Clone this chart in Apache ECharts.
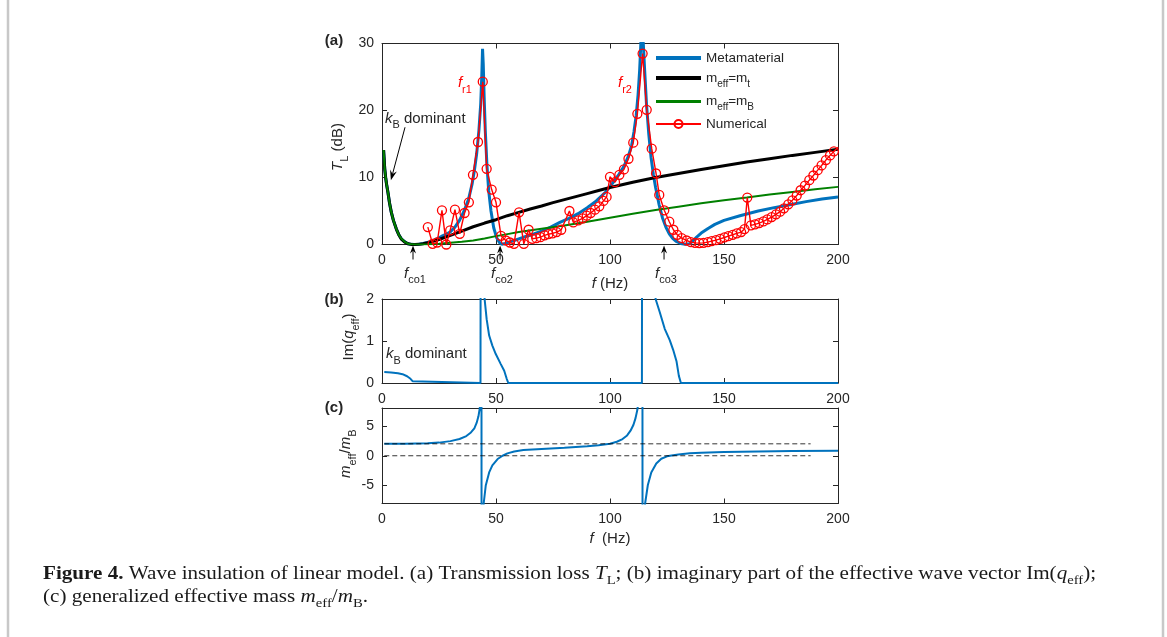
<!DOCTYPE html>
<html><head><meta charset="utf-8">
<script src="https://cdn.jsdelivr.net/npm/echarts@6/dist/echarts.min.js"></script>
<style>html,body{margin:0;padding:0;background:#fff;overflow:hidden}#c{width:1167px;height:637px}</style>
</head><body><div id="c"></div>
<script>
// ---------------- DATA ----------------
const xTicks = [0, 50, 100, 150, 200];
const yTicksA = [0, 10, 20, 30];
const yTicksB = [0, 1, 2];
const yTicksC = [-5, 0, 5];

// (a) Transmission loss T_L (dB)
const metaF = [0.7,1.2,1.6,2.0,2.6,3.3,4.1,5.0,6.3,7.3,8.5,10,11.4,13,14,16,18,20,22,24,26,28,30,32,34,36,38,39.5,40.5,41.5,42.5,43.3,43.8,44.1,44.4,44.8,45.3,46.0,46.8,47.8,49.0,50.3,51.5,52.5,54,56,58,60,63,66,70,74,78,82,86,90,94,98,101,104,106,108,109.5,110.5,111.5,112.3,113.0,113.6,114.0,114.6,115.2,116.0,117.0,118.0,119.0,120.0,121.5,123.0,124.5,126.0,127.5,129.0,131.0,133.0,135.0,136.5,138,140,143,146,150,157,165,172,180,186,193,200];
const metaTL = [14.1,11.3,10.0,9.0,7.8,6.2,4.8,3.6,2.3,1.5,0.85,0.4,0.12,0.02,0,0.05,0.15,0.3,0.55,0.85,1.2,1.5,1.9,2.6,3.6,5.0,6.8,9.0,11.0,13.5,17.0,21.0,25.5,29.2,27.0,22.0,17.0,12.0,8.0,5.0,2.5,1.0,0.3,0.05,0.15,0.4,0.6,0.85,1.2,1.5,2.0,2.6,3.3,3.9,4.6,5.5,6.5,7.8,9.1,10.5,11.6,13.1,14.8,16.8,19.3,22.3,26.0,30.5,32.0,30.0,26.0,21.0,16.5,13.0,10.5,8.5,6.0,4.0,2.6,1.6,0.9,0.45,0.15,0.03,0.1,0.6,1.1,1.7,2.4,3.0,3.6,4.3,5.0,5.5,6.0,6.4,6.8,7.1];

const mtF = [0.7,1.2,1.6,2.0,2.6,3.3,4.1,5.0,6.3,7.3,8.5,10,11.4,13,14.5,16,18,20,25,30,35,40,45,50,55,60,65,70,75,80,85,90,95,100,110,120,130,140,150,160,170,180,190,200];
const mtTL = [14.1,11.3,10.0,9.0,7.8,6.2,4.8,3.6,2.3,1.5,0.8,0.35,0.1,0.01,0,0.02,0.1,0.25,0.75,1.35,2.0,2.65,3.2,3.7,4.3,4.8,5.3,5.75,6.25,6.7,7.15,7.6,8.05,8.5,9.3,10.0,10.6,11.2,11.75,12.3,12.8,13.3,13.75,14.2];

const mbF = [0.7,1.2,1.6,2.0,2.6,3.3,4.1,5.0,6.3,7.3,8.5,10,11.4,13,14.5,16,20,25,30,35,40,45,50,55,60,70,80,90,100,110,120,130,140,150,160,170,180,190,200];
const mbTL = [14.1,11.3,10.0,9.0,7.8,6.2,4.8,3.6,2.3,1.5,0.85,0.4,0.12,0.02,0,0.01,0.05,0.12,0.25,0.4,0.6,0.9,1.25,1.55,1.85,2.35,2.85,3.4,4.0,4.6,5.15,5.65,6.15,6.6,7.0,7.45,7.85,8.25,8.6];

const numF = [20.1,22.2,24.2,26.3,28.2,29.9,32.0,34.1,36.2,38.1,39.9,42.1,44.2,45.9,48.1,50.0,52.2,54.3,56.1,57.9,60.1,62.2,64.3,65.9,67.7,69.5,71.3,73.0,74.8,76.6,78.6,82.2,83.9,86.1,88.0,89.8,91.5,93.4,95.3,97.1,98.5,100.0,102.2,104.1,106.1,108.1,110.2,112.0,114.3,116.1,118.3,120.2,121.6,123.8,126.0,127.8,129.5,131.4,133.6,135.5,137.3,139.2,141.0,142.9,144.6,146.5,148.3,150.2,151.9,153.8,155.6,157.5,159.0,160.2,161.8,163.6,165.4,167.3,169.0,170.9,172.8,174.6,176.3,178.2,180.0,181.9,183.6,185.5,187.4,189.2,191.1,192.8,194.7,196.5,198.2,200.1];
const numTL = [2.6,0.1,0.3,5.1,0.0,2.1,5.2,1.6,4.7,6.3,10.4,15.3,24.3,11.3,8.2,6.3,1.3,0.6,0.3,0.1,4.8,0.1,2.2,0.85,0.95,1.1,1.35,1.55,1.65,1.85,2.2,5.0,3.3,3.6,3.9,4.3,4.7,5.2,5.7,6.5,7.1,10.1,9.3,10.4,11.2,12.8,15.2,19.5,28.5,20.1,14.3,10.6,7.4,5.1,3.4,2.2,1.45,0.95,0.6,0.35,0.25,0.2,0.25,0.35,0.5,0.65,0.85,1.05,1.25,1.45,1.65,1.85,2.3,7.0,2.85,3.0,3.2,3.45,3.75,4.1,4.5,4.9,5.4,6.0,6.6,7.3,8.1,8.8,9.6,10.3,11.1,11.8,12.6,13.3,13.9,14.5];

// (b) Im(q_eff)
const imqF = [1,4,7,9,11,12.5,13.5,14,43.2,43.3,44.7,45.0,45.9,47.0,48.4,49.9,52.1,53.6,54.7,55.4,114.0,114.1,119.8,120.0,121.8,124.0,126.2,127.7,129.2,130.2,131.1,200];
const imqV = [0.26,0.25,0.23,0.21,0.16,0.1,0.04,0,0,6,6,2.0,1.52,1.13,0.89,0.69,0.45,0.29,0.1,0,0,6,6,2.0,1.69,1.29,1.02,0.79,0.51,0.17,0,0];

// (c) m_eff / m_B
const meffF = [1,10,20,25,30,34,37,39,40.5,41.5,42.3,42.9,43.3,43.6,43.7,44.2,44.6,45.5,47,48.4,50.7,52.9,55,58,62,70,80,90,95,100,103,105.5,107.5,109,110.3,111.2,112.0,112.8,114.2,114.3,115,115.4,116.6,118.1,120.3,122.5,125,127,130,135,140,150,165,180,200];
const meffV = [2.0,2.02,2.1,2.2,2.45,2.8,3.3,3.9,4.6,5.5,6.6,8.0,10,40,-40,-12,-8,-5,-2.8,-1.6,-0.55,0,0.4,0.7,0.95,1.15,1.35,1.6,1.75,2.0,2.35,2.8,3.4,4.2,5.2,6.3,7.7,10,40,-40,-12,-8,-4.9,-2.8,-1.3,-0.5,-0.1,0.05,0.2,0.4,0.5,0.62,0.72,0.8,0.85];
const dashF = [1, 188];
const dashLevels = [2, 0];

// ---------------- CHART ----------------
const SANS = 'Liberation Sans, Arial, Helvetica, sans-serif';
const SERIF = 'Liberation Serif, Times New Roman, serif';
const AX = '#262626';
const BLUE = '#0072BD', GREEN = '#008000', RED = '#FF0000';
const zip = (a, b) => a.map((v, i) => [v, b[i]]);

const chart = echarts.init(document.getElementById('c'), null, {renderer: 'canvas'});

const grids = [
  {left: 382, top: 43.5, width: 456, height: 201},
  {left: 382, top: 299, width: 456, height: 84},
  {left: 382, top: 408, width: 456, height: 95.5}
];
function xAx(g, pos, showLabel) {
  return {type: 'value', gridIndex: g, position: pos, min: 0, max: 200, interval: 50,
    axisLine: {show: true, onZero: false, lineStyle: {color: AX, width: 1}},
    axisTick: {show: true, inside: true, length: 5, customValues: xTicks, lineStyle: {color: AX}},
    axisLabel: {show: showLabel, customValues: xTicks, color: AX, fontSize: 14, fontFamily: SANS, margin: 9},
    splitLine: {show: false}};
}
function yAx(g, pos, min, max, ticks, showLabel) {
  return {type: 'value', gridIndex: g, position: pos, min: min, max: max,
    axisLine: {show: true, onZero: false, lineStyle: {color: AX, width: 1}},
    axisTick: {show: true, inside: true, length: 5, customValues: ticks, lineStyle: {color: AX}},
    axisLabel: {show: showLabel, customValues: ticks, color: AX, fontSize: 14, fontFamily: SANS, margin: 8},
    splitLine: {show: false}};
}
const xAxes = [xAx(0,'bottom',true), xAx(0,'top',false), xAx(1,'bottom',true), xAx(1,'top',false), xAx(2,'bottom',true), xAx(2,'top',false)];
const yAxes = [yAx(0,'left',0,30,yTicksA,true), yAx(0,'right',0,30,yTicksA,false),
               yAx(1,'left',0,2,yTicksB,true), yAx(1,'right',0,2,yTicksB,false),
               yAx(2,'left',-8,8,yTicksC,true), yAx(2,'right',-8,8,yTicksC,false)];

const legRich = {
  n: {fontSize: 13.5, fontFamily: SANS, color: AX, lineHeight: 22},
  s: {fontSize: 10, fontFamily: SANS, color: AX, lineHeight: 9, verticalAlign: 'bottom'}
};
const legLabels = {
  'Metamaterial': '{n|Metamaterial}',
  'meff=mt': '{n|m}{s|eff}{n|=m}{s|t}',
  'meff=mB': '{n|m}{s|eff}{n|=m}{s|B}',
  'Numerical': '{n|Numerical}'
};
function leg(name, top, icon, ih, left) {
  const L = {data: [name], orient: 'vertical', left: left || 656, top: top, padding: 0,
    itemWidth: 45, itemHeight: ih, itemGap: 0, formatter: n => legLabels[n], selectedMode: false,
    textStyle: {rich: legRich, fontSize: 13.5, fontFamily: SANS, color: AX}};
  if (icon) L.icon = icon;
  return L;
}

const series = [
  {name: 'Metamaterial', type: 'line', xAxisIndex: 0, yAxisIndex: 0, data: zip(metaF, metaTL), symbol: 'none', lineStyle: {color: BLUE, width: 3}, itemStyle: {color: BLUE}},
  {name: 'meff=mt', type: 'line', xAxisIndex: 0, yAxisIndex: 0, data: zip(mtF, mtTL), symbol: 'none', lineStyle: {color: '#000', width: 3}, itemStyle: {color: '#000'}},
  {name: 'meff=mB', type: 'line', xAxisIndex: 0, yAxisIndex: 0, data: zip(mbF, mbTL), symbol: 'none', lineStyle: {color: GREEN, width: 2}, itemStyle: {color: GREEN}},
  {name: 'Numerical', type: 'line', xAxisIndex: 0, yAxisIndex: 0, data: zip(numF, numTL), symbol: 'circle', symbolSize: 9, showAllSymbol: true,
   lineStyle: {color: RED, width: 1.4}, itemStyle: {color: 'rgba(255,255,255,0)', borderColor: RED, borderWidth: 1.3}},
  {name: 'imq', type: 'line', xAxisIndex: 2, yAxisIndex: 2, data: zip(imqF, imqV), symbol: 'none', lineStyle: {color: BLUE, width: 2}},
  {name: 'meff', type: 'line', xAxisIndex: 4, yAxisIndex: 4, data: zip(meffF, meffV), symbol: 'none', lineStyle: {color: BLUE, width: 2}},
  {name: 'dash2', type: 'line', xAxisIndex: 4, yAxisIndex: 4, data: zip(dashF, dashF.map(() => dashLevels[0])), symbol: 'none', lineStyle: {color: '#000', width: 0.8, type: [5, 3]}},
  {name: 'dash0', type: 'line', xAxisIndex: 4, yAxisIndex: 4, data: zip(dashF, dashF.map(() => dashLevels[1])), symbol: 'none', lineStyle: {color: '#000', width: 0.8, type: [5, 3]}}
];

chart.setOption({
  animation: false,
  backgroundColor: '#fff',
  grid: grids,
  xAxis: xAxes,
  yAxis: yAxes,
  legend: [leg('Metamaterial', 51, 'rect', 4), leg('meff=mt', 71, 'rect', 4), leg('meff=mB', 94.5, 'rect', 3), leg('Numerical', 117, null, 10, 655)],
  series: series
});

// ---------------- ANNOTATIONS ----------------
const P = (si, x, y) => chart.convertToPixel({seriesIndex: si}, [x, y]);
function rich(fs, color) {
  return {
    n: {fontSize: fs, fontFamily: SANS, fill: color, lineHeight: 24},
    i: {fontSize: fs, fontFamily: SANS, fontStyle: 'italic', fill: color, lineHeight: 24},
    s: {fontSize: fs * 0.73, fontFamily: SANS, fill: color, lineHeight: 11, verticalAlign: 'bottom'}
  };
}
function txt(x, y, text, opts) {
  opts = opts || {};
  const fs = opts.fs || 15, color = opts.color || AX;
  return {type: 'text', x: x, y: y, rotation: opts.rot || 0, silent: true, z: 100,
    style: {text: text, rich: rich(fs, color), fontSize: fs, fontFamily: SANS, fill: color,
      fontWeight: opts.bold ? 'bold' : 'normal',
      align: opts.align || 'left', textAlign: opts.align || 'left', verticalAlign: 'middle', textVerticalAlign: 'middle'}};
}
function arrow(x1, y1, x2, y2, len, hw) {
  len = len || 9; hw = hw || 3.5;
  const dx = x2 - x1, dy = y2 - y1, L = Math.hypot(dx, dy), ux = dx / L, uy = dy / L, nx = -uy, ny = ux;
  const bx = x2 - ux * len, by = y2 - uy * len;
  const mx = x2 - ux * len * 0.65, my = y2 - uy * len * 0.65;
  return [
    {type: 'line', silent: true, z: 100, shape: {x1: x1, y1: y1, x2: mx, y2: my}, style: {stroke: '#000', lineWidth: 1}},
    {type: 'polygon', silent: true, z: 100, shape: {points: [[x2, y2], [bx + nx * hw, by + ny * hw], [mx, my], [bx - nx * hw, by - ny * hw]]}, style: {fill: '#000'}}
  ];
}
const g = [];
// frame
g.push({type: 'line', silent: true, shape: {x1: 8, y1: 0, x2: 8, y2: 637}, style: {stroke: '#c8c8c8', lineWidth: 2.5}});
g.push({type: 'line', silent: true, shape: {x1: 1163, y1: 0, x2: 1163, y2: 637}, style: {stroke: '#c8c8c8', lineWidth: 2.5}});

// panel labels
const a0 = P(0, 0, 30), b0 = P(4, 0, 2), c0 = P(5, 0, 8);
g.push(txt(a0[0] - 48, a0[1] - 3, '(a)', {bold: true, align: 'center'}));
g.push(txt(b0[0] - 48, b0[1] + 1, '(b)', {bold: true, align: 'center'}));
g.push(txt(c0[0] - 48, c0[1] + 0, '(c)', {bold: true, align: 'center'}));

// y labels
const aMid = P(0, 0, 15), bMid = P(4, 0, 1), cMid = P(5, 0, 0);
g.push(txt(338, aMid[1] + 3, '{i|T}{s|L}{n| (dB)}', {rot: Math.PI / 2, align: 'center'}));
g.push(txt(349, bMid[1] - 4, '{n|Im(}{i|q}{s|eff}{n|)}', {rot: Math.PI / 2, align: 'center'}));
g.push(txt(346, cMid[1] - 2, '{i|m}{s|eff}{n|/}{i|m}{s|B}', {rot: Math.PI / 2, align: 'center'}));

// x labels
const ax = P(0, 100, 0), cx = P(5, 100, -8);
g.push(txt(ax[0], ax[1] + 39, '{i|f}{n| (Hz)}', {align: 'center'}));
g.push(txt(cx[0], cx[1] + 35, '{i|f}{n|  (Hz)}', {align: 'center'}));

// k_B dominant (a)
const kA = P(0, 1.3, 18.8);
g.push(txt(kA[0], kA[1], '{i|k}{s|B}{n| dominant}'));
const kt = P(0, 10.1, 17.5), kh = P(0, 3.9, 9.6);
g.push(...arrow(kt[0], kt[1], kh[0], kh[1], 10, 3.5));
// k_B dominant (b)
const kB = P(4, 1.75, 0.69);
g.push(txt(kB[0], kB[1], '{i|k}{s|B}{n| dominant}'));

// cut-off frequencies
[[13.6, 'co1'], [51.8, 'co2'], [123.7, 'co3']].forEach(function (d) {
  const p = P(0, d[0], 0);
  g.push(...arrow(p[0], p[1] + 15, p[0], p[1] + 1, 8, 3));
  g.push(txt(p[0] - 9, p[1] + 29, '{i|f}{s|' + d[1] + '}'));
});
// resonance labels
const r1 = P(0, 33.3, 24.1), r2 = P(0, 103.5, 24.1);
g.push(txt(r1[0], r1[1], '{i|f}{s|r1}', {color: RED}));
g.push(txt(r2[0], r2[1], '{i|f}{s|r2}', {color: RED}));

// caption
const capRich = {
  b: {fontSize: 18, fontFamily: SERIF, fontWeight: 'bold', fill: '#1a1a1a', lineHeight: 26},
  n: {fontSize: 18, fontFamily: SERIF, fill: '#1a1a1a', lineHeight: 26},
  i: {fontSize: 18, fontFamily: SERIF, fontStyle: 'italic', fill: '#1a1a1a', lineHeight: 26},
  s: {fontSize: 12.5, fontFamily: SERIF, fill: '#1a1a1a', lineHeight: 15, verticalAlign: 'bottom'}
};
function cap(y, text) {
  return {type: 'text', x: 43, y: y, scaleX: 1.173, silent: true,
    style: {text: text, rich: capRich, fontSize: 18, fontFamily: SERIF, fill: '#1a1a1a', align: 'left', textAlign: 'left', verticalAlign: 'middle', textVerticalAlign: 'middle'}};
}
g.push(cap(574, '{b|Figure 4.}{n| Wave insulation of linear model. (a) Transmission loss }{i|T}{s|L}{n|; (b) imaginary part of the effective wave vector Im(}{i|q}{s|eff}{n|);}'));
g.push(cap(597, '{n|(c) generalized effective mass }{i|m}{s|eff}{n|/}{i|m}{s|B}{n|.}'));

chart.setOption({graphic: {elements: g}});
</script></body></html>
